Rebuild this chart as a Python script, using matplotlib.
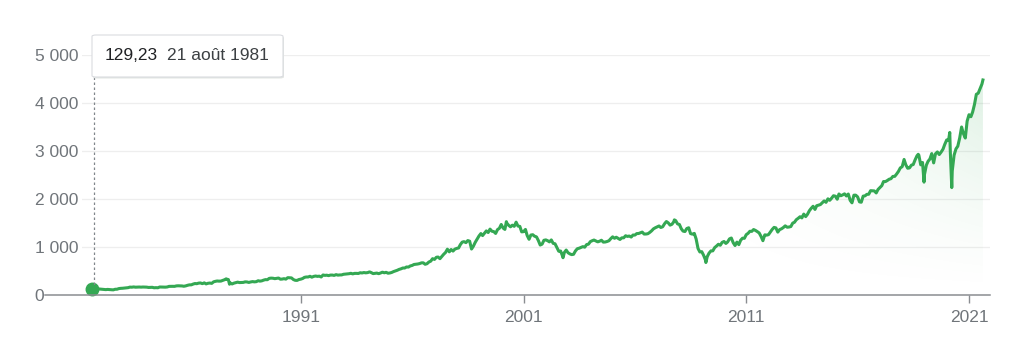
import numpy as np
import pandas as pd
import matplotlib
matplotlib.use("Agg")
import matplotlib.pyplot as plt
import matplotlib.dates as mdates
from matplotlib.patches import FancyBboxPatch
from matplotlib.lines import Line2D

plt.rcParams['font.family'] = ['Liberation Sans', 'DejaVu Sans']

# ---- data: monthly closes (month-end), Aug 1981 .. Jul 2021 ----
monthly = {
    1981: [122.8, 116.2, 121.9, 126.4, 122.6],  # Aug..Dec
    1982: [120.4, 113.1, 112.0, 116.4, 111.9, 109.6, 107.1, 119.5, 120.4, 133.7, 138.5, 140.6],
    1983: [145.3, 148.1, 153.0, 164.4, 162.4, 168.1, 162.6, 164.4, 166.1, 163.6, 166.4, 164.9],
    1984: [163.4, 157.1, 159.2, 160.1, 150.6, 153.2, 150.7, 166.7, 166.1, 166.1, 163.6, 167.2],
    1985: [179.6, 181.2, 180.7, 179.8, 189.6, 191.9, 190.9, 188.6, 182.1, 189.8, 202.2, 211.3],
    1986: [211.8, 226.9, 238.9, 235.5, 247.4, 250.8, 236.1, 252.9, 231.3, 244.0, 249.2, 242.2],
    1987: [274.1, 284.2, 291.7, 288.4, 290.1, 304.0, 318.7, 329.8, 321.8, 251.8, 230.3, 247.1],
    1988: [257.1, 267.8, 258.9, 261.3, 262.2, 273.5, 272.0, 261.5, 271.9, 279.0, 273.7, 277.7],
    1989: [297.5, 288.9, 294.9, 309.6, 320.5, 318.0, 346.1, 351.5, 349.2, 340.4, 346.0, 353.4],
    1990: [329.1, 331.9, 339.9, 330.8, 361.2, 358.0, 356.2, 322.6, 306.1, 304.0, 322.2, 330.2],
    1991: [343.9, 367.1, 375.2, 375.3, 389.8, 371.2, 387.8, 395.4, 387.9, 392.5, 375.2, 417.1],
    1992: [408.8, 412.7, 403.7, 415.0, 415.4, 408.1, 424.2, 414.0, 417.8, 418.7, 431.4, 435.7],
    1993: [438.8, 443.4, 451.7, 440.2, 450.2, 450.5, 448.1, 463.6, 458.9, 467.8, 461.8, 466.5],
    1994: [481.6, 467.1, 445.8, 450.9, 456.5, 444.3, 458.3, 475.5, 462.7, 472.4, 453.7, 459.3],
    1995: [470.4, 487.4, 500.7, 514.7, 533.4, 544.8, 562.1, 561.9, 584.4, 581.5, 605.4, 615.9],
    1996: [636.0, 640.4, 645.5, 654.2, 669.1, 670.6, 640.0, 652.0, 687.3, 705.3, 757.0, 740.7],
    1997: [786.2, 790.8, 757.1, 801.3, 848.3, 885.1, 954.3, 899.5, 947.3, 914.6, 955.4, 970.4],
    1998: [980.3, 1049.3, 1101.8, 1111.8, 1090.8, 1133.8, 1120.7, 957.3, 1017.0, 1098.7, 1163.6, 1229.2],
    1999: [1279.6, 1238.3, 1286.4, 1335.2, 1301.8, 1372.7, 1328.7, 1320.4, 1282.7, 1362.9, 1388.9, 1469.3],
    2000: [1394.5, 1366.4, 1498.6, 1452.4, 1420.6, 1454.6, 1430.8, 1517.7, 1436.5, 1429.4, 1315.2, 1320.3],
    2001: [1366.0, 1239.9, 1160.3, 1249.5, 1255.8, 1224.4, 1211.2, 1133.6, 1040.9, 1059.8, 1139.5, 1148.1],
    2002: [1130.2, 1106.7, 1147.4, 1076.9, 1067.1, 989.8, 911.6, 916.1, 815.3, 885.8, 936.3, 879.8],
    2003: [855.7, 841.2, 848.2, 916.9, 963.6, 974.5, 990.3, 1008.0, 996.0, 1050.7, 1058.2, 1111.9],
    2004: [1131.1, 1144.9, 1126.2, 1107.3, 1120.7, 1140.8, 1101.7, 1104.2, 1114.6, 1130.2, 1173.8, 1211.9],
    2005: [1181.3, 1203.6, 1180.6, 1156.9, 1191.5, 1191.3, 1234.2, 1220.3, 1228.8, 1207.0, 1249.5, 1248.3],
    2006: [1280.1, 1280.7, 1294.8, 1310.6, 1270.1, 1270.2, 1276.7, 1303.8, 1335.9, 1377.9, 1400.6, 1418.3],
    2007: [1438.2, 1406.8, 1420.9, 1482.4, 1530.6, 1503.4, 1455.3, 1474.0, 1526.8, 1549.4, 1481.1, 1468.4],
    2008: [1378.6, 1330.6, 1322.7, 1385.6, 1400.4, 1280.0, 1267.4, 1282.8, 1166.4, 968.8, 896.2, 903.3],
    2009: [825.9, 735.1, 797.9, 872.8, 919.1, 919.3, 987.5, 1020.6, 1057.1, 1036.2, 1095.6, 1115.1],
    2010: [1073.9, 1104.5, 1169.4, 1186.7, 1089.4, 1030.7, 1101.6, 1049.3, 1141.2, 1183.3, 1180.6, 1257.6],
    2011: [1286.1, 1327.2, 1325.8, 1363.6, 1345.2, 1320.6, 1292.3, 1218.9, 1131.4, 1253.3, 1247.0, 1257.6],
    2012: [1312.4, 1365.7, 1408.5, 1397.9, 1310.3, 1362.2, 1379.3, 1406.6, 1440.7, 1412.2, 1416.2, 1426.2],
    2013: [1498.1, 1514.7, 1569.2, 1597.6, 1630.7, 1606.3, 1685.7, 1633.0, 1681.6, 1756.5, 1805.8, 1848.4],
    2014: [1782.6, 1859.5, 1872.3, 1884.0, 1923.6, 1960.2, 1930.7, 2003.4, 1972.3, 2018.1, 2067.6, 2058.9],
    2015: [1995.0, 2104.5, 2067.9, 2085.5, 2107.4, 2063.1, 2103.8, 1972.2, 1920.0, 2079.4, 2080.4, 2043.9],
    2016: [1940.2, 1932.2, 2059.7, 2065.3, 2097.0, 2098.9, 2173.6, 2171.0, 2168.3, 2126.2, 2198.8, 2238.8],
    2017: [2278.9, 2363.6, 2362.7, 2384.2, 2411.8, 2423.4, 2470.3, 2471.7, 2519.4, 2575.3, 2647.6, 2673.6],
    2018: [2823.8, 2713.8, 2640.9, 2648.1, 2705.3, 2718.4, 2816.3, 2901.5, 2914.0, 2711.7, 2760.2, 2506.9],
    2019: [2704.1, 2784.5, 2834.4, 2945.8, 2752.1, 2941.8, 2980.4, 2926.5, 2976.7, 3037.6, 3141.0, 3230.8],
    2020: [3225.5, 2954.2, 2584.6, 2912.4, 3044.3, 3100.3, 3271.1, 3500.3, 3363.0, 3270.0, 3621.6, 3756.1],
    2021: [3714.2, 3811.2, 3972.9, 4181.2, 4204.1, 4297.5, 4395.3],
}

# notable intra-month extremes and endpoints
event_dates = ["1981-08-21", "1987-08-25", "1987-10-19", "2000-03-24", "2002-10-09",
               "2007-10-09", "2009-03-09", "2018-09-20", "2018-12-24", "2020-02-19",
               "2020-03-23", "2021-08-16"]
event_values = [129.23, 336.8, 224.8, 1527.5, 776.8,
                1565.2, 676.5, 2930.8, 2351.1, 3386.2,
                2237.4, 4479.7]

tooltip_value = "129,23"
tooltip_date = "21 août 1981"
y_ticks = [0, 1000, 2000, 3000, 4000, 5000]
y_tick_labels = ["0", "1 000", "2 000", "3 000", "4 000", "5 000"]
x_ticks = ["1991-01-01", "2001-01-01", "2011-01-01", "2021-01-01"]
x_tick_labels = ["1991", "2001", "2011", "2021"]

# ---- build series ----
dates, vals = [], []
for yr, vs in monthly.items():
    start_m = 13 - len(vs) if yr == 1981 else 1
    for i, v in enumerate(vs):
        d = pd.Timestamp(year=yr, month=start_m + i, day=1) + pd.offsets.MonthEnd(0)
        dates.append(d)
        vals.append(v)
for d, v in zip(event_dates, event_values):
    dates.append(pd.Timestamp(d))
    vals.append(v)
s = pd.Series(vals, index=pd.DatetimeIndex(dates)).sort_index()
s = s[s.index >= pd.Timestamp("1981-08-21")]
x = mdates.date2num(s.index.to_pydatetime())
y = s.values

GREEN = "#34a853"
GRAY = "#70757a"
FS = 12.5

fig = plt.figure(figsize=(10.24, 3.44), dpi=100)
W, H = 1024, 344
ax = fig.add_axes([82 / W, (H - 295) / H, (990 - 82) / W, 240 / H])
xmin = mdates.date2num(pd.Timestamp("1981-03-05").to_pydatetime())
xmax = mdates.date2num(pd.Timestamp("2021-12-10").to_pydatetime())

for sp in ax.spines.values():
    sp.set_visible(False)

# grid
for yt in y_ticks[1:]:
    ax.axhline(yt, color="#eeeeee", lw=0.9, zorder=0)

# baseline (extends left past the axes)
fig.add_artist(Line2D([45 / W, 990 / W], [(H - 295) / H] * 2, color="#8a8d91", lw=1.1))

# gradient fill under line
poly = ax.fill_between(x, y, 0, facecolor="none", edgecolor="none")
nx, ny = 400, 200
gx = np.linspace(0, 1, nx)
gy = np.linspace(0, 1, ny)
GX, GY = np.meshgrid(gx, gy)
alpha = 0.16 * np.clip((GX - 0.6) / 0.4, 0, 1) ** 1.8 * GY ** 1.3
rgba = np.zeros((ny, nx, 4))
rgba[..., 0] = 0x34 / 255
rgba[..., 1] = 0xa8 / 255
rgba[..., 2] = 0x53 / 255
rgba[..., 3] = alpha
im = ax.imshow(rgba, extent=[x[0], x[-1], 0, y.max()], origin="lower",
               aspect="auto", zorder=1)
im.set_clip_path(poly.get_paths()[0], transform=ax.transData)
ax.set_xlim(xmin, xmax)
ax.set_ylim(0, 5000)

ax.plot(x, y, color=GREEN, lw=2.2, zorder=3, solid_joinstyle="round")

# start marker and dotted guide
ax.plot([x[0]], [y[0]], "o", color=GREEN, ms=9, zorder=4, clip_on=False)
fig.add_artist(Line2D([94 / W, 94 / W], [(H - 77) / H, (H - 287) / H],
                      color="#80868b", lw=0.9, ls=(0, (2, 2))))

# ticks
ax.set_yticks(y_ticks)
ax.set_yticklabels(y_tick_labels)
ax.tick_params(axis="y", length=0, pad=34, labelsize=FS, labelcolor=GRAY)
for lab in ax.get_yticklabels():
    lab.set_horizontalalignment("left")

xt = [mdates.date2num(pd.Timestamp(d).to_pydatetime()) for d in x_ticks]
ax.set_xticks(xt)
ax.set_xticklabels(x_tick_labels)
ax.tick_params(axis="x", length=6, width=1, color="#8a8d91", pad=5,
               labelsize=FS, labelcolor=GRAY)

# tooltip box
bx0, by0, bw, bh = 92, 35, 191, 42
shadow = FancyBboxPatch(((bx0 + 1) / W, (H - by0 - bh - 1.5) / H), bw / W, bh / H,
                        boxstyle="round,pad=0,rounding_size=0.004",
                        transform=fig.transFigure, facecolor="#e3e6e3",
                        edgecolor="none", zorder=9)
fig.add_artist(shadow)
box = FancyBboxPatch((bx0 / W, (H - by0 - bh) / H), bw / W, bh / H,
                     boxstyle="round,pad=0,rounding_size=0.004",
                     transform=fig.transFigure, facecolor="white",
                     edgecolor="#dadce0", lw=0.8, zorder=10)
fig.add_artist(box)
fig.text(105 / W, (H - 56) / H, tooltip_value, fontsize=FS, color="#202124",
         va="center", ha="left", zorder=11)
fig.text(167 / W, (H - 56) / H, tooltip_date, fontsize=FS, color="#3c4043",
         va="center", ha="left", zorder=11)

fig.savefig("out.png", dpi=100)
